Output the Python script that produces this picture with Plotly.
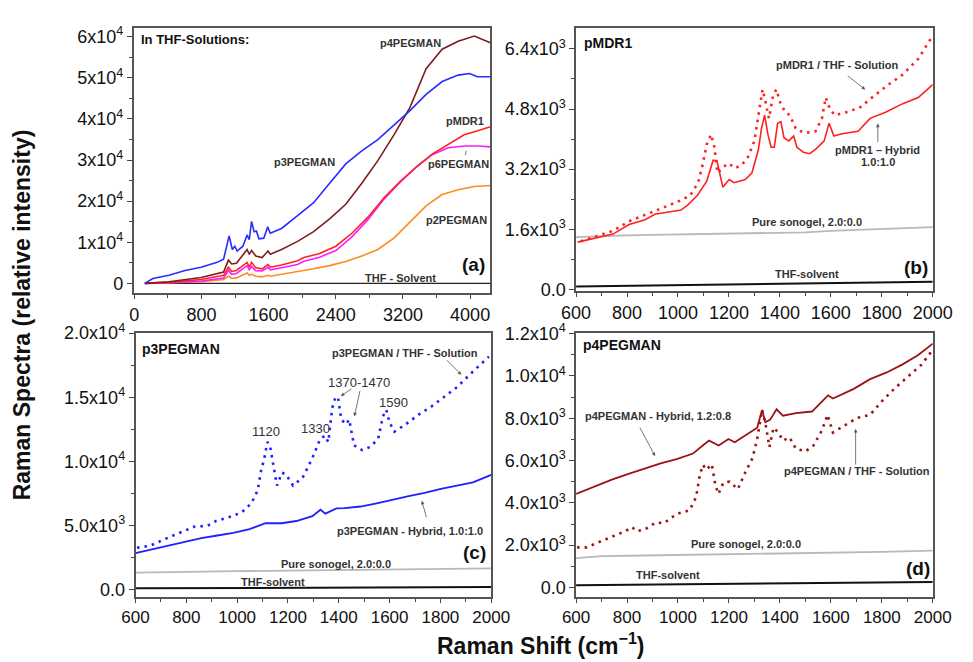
import plotly.graph_objects as go

W, H = 973, 662

# ---------------- Panel (a): THF solutions, full range ----------------
a_p3_x = [126, 222, 413, 605, 796, 988, 1064, 1130, 1168, 1198, 1225, 1294, 1344, 1370, 1397, 1428, 1455, 1485,
          1543, 1589, 1620, 1754, 1945, 2136, 2327, 2519, 2710, 2901, 3093, 3284, 3476, 3667, 3858, 3992, 4088, 4241]
a_p3_y = [0, 1178, 1964, 3142, 3928, 5106, 5891, 11547, 8248, 9033, 7855, 9033, 11783, 10604, 15082, 12569, 12725,
          10840, 10997, 13746, 12175, 13354, 16496, 19638, 24351, 29064, 32206, 34955, 38490, 42025, 45952, 49094,
          50665, 51058, 50272, 50272]

a_grid_x = [126, 413, 796, 1064, 1122, 1160, 1217, 1344, 1370, 1397, 1447, 1523, 1593, 1620, 1754, 1945, 2136,
            2327, 2519, 2710, 2901, 3093, 3284, 3476, 3667, 3858, 4050, 4241]
a_p4_y = [0, 393, 1414, 2749, 5656, 4713, 4870, 8248, 7070, 8012, 6677, 6284, 7855, 7070, 8248, 10212, 12569,
          15711, 19245, 24351, 29849, 36133, 42810, 52236, 56949, 58913, 60169, 58520]
a_p2_y = [0, 157, 393, 943, 1728, 1178, 1335, 2514, 1964, 2199, 1728, 1571, 1964, 1728, 2199, 2749, 3535, 4320,
          5342, 6677, 8248, 10998, 14925, 18853, 21602, 22781, 23567, 23803]

a_mdr_x = [126, 413, 796, 1064, 1122, 1160, 1217, 1344, 1370, 1397, 1447, 1523, 1593, 1620, 1754, 1945, 2019,
           2200, 2401, 2592, 2783, 2975, 3166, 3357, 3548, 3739, 3930, 4100, 4241]
a_mdr_y = [0, 236, 943, 1964, 3928, 2906, 3142, 5106, 3928, 5106, 3771, 3535, 4556, 3928, 4477, 5500, 6300, 7200,
           9040, 12190, 16110, 20830, 24760, 28300, 31440, 33800, 36150, 37200, 38100]
a_p6_y = [0, 157, 550, 1300, 3142, 2200, 2400, 4320, 3300, 4080, 3100, 3000, 3900, 3300, 3800, 4600, 5400, 6300,
          8000, 11300, 15500, 20500, 24600, 28200, 31300, 33000, 33400, 33400, 33200]
a_thf_x = [126, 4241]
a_thf_y = [0, 0]

# ---------------- Panel (b): pMDR1 ----------------
b_sol_x = [619, 682, 745, 808, 871, 934, 997, 1048, 1079, 1098, 1113, 1130, 1143, 1155, 1180, 1199, 1224, 1250,
           1275, 1300, 1319, 1332, 1344, 1357, 1373, 1386, 1401, 1420, 1439, 1464, 1502, 1540, 1565, 1580, 1596,
           1615, 1666, 1716, 1754, 1817, 1880, 1943, 1994]
b_sol_y = [1283, 1429, 1557, 1814, 1985, 2156, 2327, 2498, 2841, 3354, 3867, 4124, 3782, 3097, 3268, 3354, 3226,
           3311, 3525, 3953, 4808, 5322, 4980, 4552, 5151, 5322, 4980, 4723, 4637, 4252, 4167, 4210, 4552, 5108,
           4808, 4637, 4723, 4851, 5065, 5407, 5707, 6135, 6691]
b_hyb_x = [606, 682, 745, 808, 871, 909, 1012, 1038, 1076, 1113, 1138, 1153, 1176, 1201, 1220, 1264, 1290, 1315,
           1328, 1340, 1353, 1366, 1378, 1391, 1404, 1416, 1435, 1454, 1467, 1492, 1517, 1542, 1574, 1593, 1612,
           1644, 1707, 1754, 1817, 1880, 1943, 2000]
b_hyb_y = [1258, 1386, 1472, 1728, 1857, 2002, 2113, 2242, 2498, 2883, 3440, 3422, 2721, 2926, 2841, 2926, 3097,
           3696, 4295, 4637, 4124, 3782, 3782, 4423, 4466, 4038, 3953, 4081, 3782, 3653, 3611, 3739, 3953, 4423,
           4081, 4141, 4210, 4552, 4723, 4937, 5108, 5450]
b_gel_x = [600, 700, 800, 900, 1000, 1100, 1200, 1300, 1400, 1500, 1600, 1700, 1800, 1900, 2000]
b_gel_y = [1390, 1420, 1440, 1450, 1460, 1460, 1480, 1500, 1510, 1520, 1560, 1580, 1600, 1630, 1660]
b_thf_x = [600, 800, 1000, 1200, 1400, 1600, 1800, 2000]
b_thf_y = [80, 100, 120, 140, 160, 180, 195, 205]

# ---------------- Panel (c): p3PEGMAN ----------------
c_sol_x = [606, 657, 733, 796, 834, 884, 917, 980, 1018, 1056, 1081, 1094, 1107, 1119, 1129, 1142, 1157, 1176,
           1192, 1220, 1258, 1296, 1327, 1346, 1359, 1374, 1387, 1397, 1410, 1429, 1441, 1460, 1492, 1524, 1555,
           1574, 1587, 1600, 1619, 1663, 1714, 1764, 1815, 1865, 1916, 1966, 1991]
c_sol_y = [3285, 3436, 4113, 4615, 4941, 4991, 5367, 5743, 6044, 6746, 7750, 9255, 10258, 11512, 11261, 9756,
           8126, 9129, 9004, 8126, 8753, 10258, 11763, 12013, 11512, 14145, 15023, 14973, 13267, 12891, 13267,
           11261, 10885, 11135, 11763, 13518, 14020, 13016, 12314, 12891, 13643, 14271, 15023, 15775, 16778,
           17656, 18158]
c_hyb_x = [600, 669, 733, 796, 859, 922, 985, 1049, 1112, 1175, 1233, 1296, 1328, 1347, 1391, 1423, 1486, 1549,
           1612, 1675, 1738, 1802, 1865, 1928, 2000]
c_hyb_y = [2859, 3185, 3486, 3787, 4038, 4239, 4439, 4740, 5192, 5192, 5367, 5743, 6245, 5944, 6345, 6370, 6496,
           6746, 7047, 7298, 7549, 7875, 8126, 8377, 8954]
c_gel_x = [600, 800, 1000, 1200, 1400, 1600, 1800, 2000]
c_gel_y = [1350, 1420, 1460, 1500, 1540, 1580, 1630, 1680]
c_thf_x = [600, 1000, 1400, 2000]
c_thf_y = [125, 160, 190, 226]

# ---------------- Panel (d): p4PEGMAN ----------------
d_hyb_x = [600, 680, 743, 806, 869, 932, 995, 1059, 1097, 1122, 1160, 1198, 1223, 1273, 1311, 1330, 1343, 1362,
           1387, 1412, 1463, 1526, 1552, 1589, 1608, 1690, 1754, 1817, 1880, 1943, 2000]
d_hyb_y = [4419, 4801, 5107, 5367, 5611, 5871, 6070, 6330, 6712, 6942, 6712, 7018, 6865, 7247, 7553, 8394, 7813,
           7935, 8425, 8119, 8241, 8318, 8624, 9082, 8930, 9388, 9847, 10153, 10535, 10994, 11529]
d_sol_x = [604, 642, 692, 743, 793, 819, 838, 869, 913, 945, 995, 1046, 1071, 1086, 1098, 1111, 1133, 1146, 1159,
           1178, 1203, 1235, 1266, 1292, 1311, 1330, 1343, 1359, 1375, 1394, 1412, 1438, 1463, 1501, 1532, 1564,
           1587, 1608, 1652, 1703, 1754, 1804, 1855, 1905, 1956, 1994]
d_sol_y = [1896, 1896, 2156, 2400, 2660, 2859, 2660, 2737, 3073, 3043, 3471, 3654, 4266, 5336, 5795, 5566, 5825,
           4878, 4419, 4954, 5000, 4648, 5489, 6101, 7018, 8394, 7782, 6636, 7553, 7324, 6942, 7095, 6559, 6437,
           6712, 7400, 8165, 7324, 7629, 8012, 8165, 8853, 9464, 9999, 10535, 11146]
d_gel_x = [600, 700, 800, 1000, 1200, 1400, 1600, 1800, 2000]
d_gel_y = [1390, 1480, 1500, 1530, 1560, 1600, 1640, 1680, 1740]
d_thf_x = [600, 1000, 1400, 2000]
d_thf_y = [107, 160, 210, 260]

# ---------------- tick labels ----------------
a_xticks = [0, 800, 1600, 2400, 3200, 4000]
a_yticks = [0, 10000, 20000, 30000, 40000, 50000, 60000]
a_ytext = ["0", "1x10<sup>4</sup>", "2x10<sup>4</sup>", "3x10<sup>4</sup>", "4x10<sup>4</sup>",
           "5x10<sup>4</sup>", "6x10<sup>4</sup>"]
shift_ticks = [600, 800, 1000, 1200, 1400, 1600, 1800, 2000]
b_yticks = [0, 1600, 3200, 4800, 6400]
b_ytext = ["0.0", "1.6x10<sup>3</sup>", "3.2x10<sup>3</sup>", "4.8x10<sup>3</sup>", "6.4x10<sup>3</sup>"]
c_yticks = [0, 5000, 10000, 15000, 20000]
c_ytext = ["0.0", "5.0x10<sup>3</sup>", "1.0x10<sup>4</sup>", "1.5x10<sup>4</sup>", "2.0x10<sup>4</sup>"]
d_yticks = [0, 2000, 4000, 6000, 8000, 10000, 12000]
d_ytext = ["0.0", "2.0x10<sup>3</sup>", "4.0x10<sup>3</sup>", "6.0x10<sup>3</sup>", "8.0x10<sup>3</sup>",
           "1.0x10<sup>4</sup>", "1.2x10<sup>4</sup>"]

FONT = "Arial, Liberation Sans, sans-serif"
DOT = "2.5px,5px"
GRAY = "#b8b8b8"

fig = go.Figure()


def line(x, y, color, ax, width=1.6, dash=None):
    fig.add_trace(go.Scatter(x=x, y=y, mode="lines", xaxis="x" + ax, yaxis="y" + ax,
                             line=dict(color=color, width=width, dash=dash), showlegend=False,
                             hoverinfo="skip"))


# panel a
line(a_thf_x, a_thf_y, "#222222", "", 1.4)
line(a_grid_x, a_p2_y, "#ff8a1f", "")
line(a_mdr_x, a_p6_y, "#ff1aff", "")
line(a_mdr_x, a_mdr_y, "#ff2222", "")
line(a_grid_x, a_p4_y, "#7d1d1d", "")
line(a_p3_x, a_p3_y, "#2b2bff", "")
# panel b
line(b_thf_x, b_thf_y, "#111111", "2", 2)
line(b_gel_x, b_gel_y, GRAY, "2", 1.8)
line(b_hyb_x, b_hyb_y, "#ff2020", "2", 1.6)
line(b_sol_x, b_sol_y, "#ff2020", "2", 2.6, DOT)
# panel c
line(c_thf_x, c_thf_y, "#111111", "3", 2)
line(c_gel_x, c_gel_y, GRAY, "3", 1.8)
line(c_hyb_x, c_hyb_y, "#1f1fff", "3", 1.8)
line(c_sol_x, c_sol_y, "#1f1fff", "3", 2.6, DOT)
# panel d
line(d_thf_x, d_thf_y, "#111111", "4", 2)
line(d_gel_x, d_gel_y, GRAY, "4", 1.8)
line(d_hyb_x, d_hyb_y, "#9b1414", "4", 1.8)
line(d_sol_x, d_sol_y, "#9b1414", "4", 2.6, DOT)


def px_dom(a, b, total):
    return [a / total, b / total]


def ydom(top, bot):
    return [1 - bot / H, 1 - top / H]


def xaxis(dom, rng, tickvals, minor, anchor, size=18):
    return dict(domain=dom, range=rng, anchor=anchor, tickmode="array", tickvals=tickvals,
                ticktext=[str(v) for v in tickvals], ticks="outside", ticklen=4, tickwidth=1.2,
                tickcolor="#444", showline=True, linecolor="#555", linewidth=1.5, mirror=True,
                showgrid=False, zeroline=False, tickfont=dict(family=FONT, size=size, color="#111"),
                minor=dict(tickmode="linear", tick0=0, dtick=minor, ticks="outside", ticklen=3,
                           tickcolor="#444", showgrid=False))


def yaxis(dom, rng, tickvals, ticktext, minor, anchor):
    return dict(domain=dom, range=rng, anchor=anchor, tickmode="array", tickvals=tickvals,
                ticktext=ticktext, ticks="outside", ticklen=5, tickwidth=1.2, tickcolor="#444",
                showline=True, linecolor="#555", linewidth=1.5, mirror=True, showgrid=False,
                zeroline=False, tickfont=dict(family=FONT, size=18, color="#111"),
                minor=dict(tickmode="linear", tick0=0, dtick=minor, ticks="outside", ticklen=3,
                           tickcolor="#444", showgrid=False))


fig.update_layout(
    width=W, height=H, margin=dict(l=0, r=0, t=0, b=0),
    paper_bgcolor="white", plot_bgcolor="white",
    font=dict(family=FONT, color="#222"),
    xaxis=xaxis(px_dom(123, 493, W), [-8, 4240], a_xticks, 400, "y"),
    yaxis=yaxis(ydom(17, 290), [-2400, 62000], a_yticks, a_ytext, 5000, "x"),
    xaxis2=xaxis(px_dom(582, 952, W), [600, 2000], shift_ticks, 100, "y2"),
    yaxis2=yaxis(ydom(16, 288), [-50, 6970], b_yticks, b_ytext, 800, "x2"),
    xaxis3=xaxis(px_dom(125, 494, W), [600, 2000], shift_ticks, 100, "y3", 17),
    yaxis3=yaxis(ydom(331, 603), [-530, 20000], c_yticks, c_ytext, 2500, "x3"),
    xaxis4=xaxis(px_dom(582, 952, W), [600, 2000], shift_ticks, 100, "y4", 17),
    yaxis4=yaxis(ydom(331, 603), [-440, 12030], d_yticks, d_ytext, 1000, "x4"),
)

annots = []


def text(s, x, y, size=11, bold=True, color="#333", xanchor="center"):
    if bold:
        s = "<b>" + s + "</b>"
    annots.append(dict(text=s, x=x / W, y=1 - y / H, xref="paper", yref="paper", showarrow=False,
                       xanchor=xanchor, yanchor="middle",
                       font=dict(family=FONT, size=size, color=color)))


def arrow(x0, y0, x1, y1, head=2):
    # tail (x0,y0) -> head (x1,y1), in pixels
    annots.append(dict(text="", x=x1 / W, y=1 - y1 / H, xref="paper", yref="paper", showarrow=True,
                       ax=x0 - x1, ay=y0 - y1, arrowhead=head, arrowsize=0.9, arrowwidth=0.8,
                       arrowcolor="#555"))


# panel a
text("In THF-Solutions:", 129, 28, 13, color="#111", xanchor="left")
text("p4PEGMAN", 410, 32)
text("p3PEGMAN", 300, 155)
text("pMDR1", 467, 112)
text("p6PEGMAN", 460, 157)
text("p2PEGMAN", 458, 214)
text("THF - Solvent", 400, 274)
text("(a)", 476, 260, 19, color="#111")
arrow(467, 149, 468, 143, head=0)
# panel b
text("pMDR1", 588, 32, 14, color="#111", xanchor="left")
text("pMDR1 / THF - Solution", 853, 55)
arrow(863, 65, 882, 80)
text("pMDR1 \u2013 Hybrid", 895, 142)
text("1.0:1.0", 895, 155)
arrow(895, 135, 895, 115)
text("Pure sonogel, 2.0:0.0", 822, 217)
text("THF-solvent", 822, 270)
text("(b)", 935, 263, 19, color="#111")
# panel c
text("p3PEGMAN", 130, 347, 14, color="#111", xanchor="left")
text("p3PEGMAN / THF - Solution", 405, 352)
arrow(447, 358, 463, 374)
text("1370-1470", 357, 382, 13, bold=False)
arrow(350, 388, 338, 396)
arrow(358, 390, 352, 417)
text("1590", 393, 403, 13, bold=False)
text("1330", 312, 429, 13, bold=False)
text("1120", 260, 433, 13, bold=False)
text("p3PEGMAN - Hybrid, 1.0:1.0", 410, 535)
arrow(427, 522, 422, 504)
text("Pure sonogel, 2.0:0.0", 333, 569)
text("THF-solvent", 268, 588)
text("(c)", 477, 557, 19, color="#111")
# panel d
text("p4PEGMAN", 587, 343, 14, color="#111", xanchor="left")
text("p4PEGMAN - Hybrid, 1.2:0.8", 667, 417)
arrow(648, 428, 664, 458)
text("p4PEGMAN / THF - Solution", 873, 473)
arrow(872, 467, 872, 430)
text("Pure sonogel, 2.0:0.0", 758, 549)
text("THF-solvent", 677, 581)
text("(d)", 937, 574, 19, color="#111")

# axis titles
annots.append(dict(text="<b>Raman Spectra (relative intensity)</b>", x=7 / W, y=1 - 312 / H,
                   xref="paper", yref="paper", showarrow=False, textangle=-90,
                   xanchor="center", yanchor="middle",
                   font=dict(family=FONT, size=23, color="#111")))
annots.append(dict(text="<b>Raman Shift (cm<sup>\u22121</sup>)</b>", x=546 / W, y=1 - 652 / H,
                   xref="paper", yref="paper", showarrow=False, xanchor="center", yanchor="middle",
                   font=dict(family=FONT, size=23, color="#111")))

fig.update_layout(annotations=annots)
fig.write_html("out.html")
